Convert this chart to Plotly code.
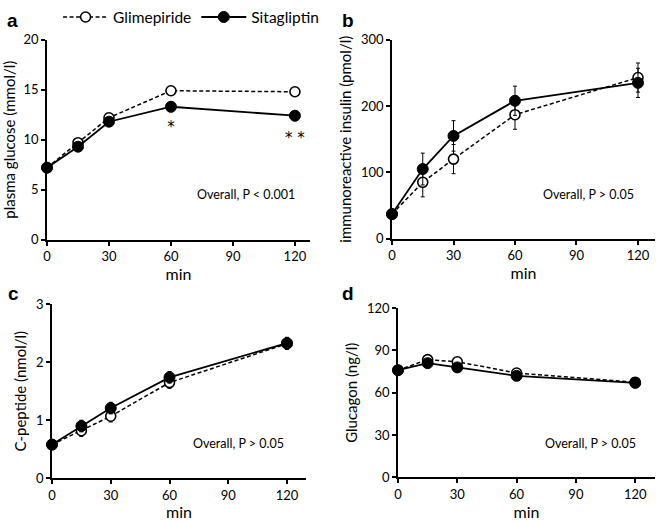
import plotly.graph_objects as go

minutes = [0, 15, 30, 60, 120]

glim_glucose = [7.2, 9.7, 12.2, 14.9, 14.8]
sita_glucose = [7.2, 9.3, 11.8, 13.3, 12.4]
glim_glucose_err = [0.3, 0.4, 0.4, 0.4, 0.4]
sita_glucose_err = [0.3, 0.4, 0.4, 0.5, 0.5]

glim_insulin = [37, 85, 120, 187, 243]
sita_insulin = [37, 105, 155, 208, 235]
glim_insulin_err = [4, 22, 22, 22, 22]
sita_insulin_err = [4, 24, 23, 22, 22]

glim_cpep = [0.58, 0.82, 1.07, 1.65, 2.32]
sita_cpep = [0.58, 0.90, 1.21, 1.74, 2.33]
glim_cpep_err = [0.03, 0.1, 0.1, 0.1, 0.1]
sita_cpep_err = [0.03, 0.1, 0.1, 0.1, 0.1]

glim_glucagon = [76, 83.5, 82, 74, 67.5]
sita_glucagon = [76, 81, 78, 72, 67]
glim_glucagon_err = [2, 2, 2, 2, 2]
sita_glucagon_err = [2, 2, 2, 2, 2]

star_x = [60, 120]
star_y = [11.1, 10.0]
star_text = ["*", "* *"]

panel_letters = ["a", "b", "c", "d"]
y_titles = ["plasma glucose (mmol/l)", "immunoreactive insulin (pmol/l)",
            "C-peptide (nmol/l)", "Glucagon (ng/l)"]
p_texts = ["Overall, P < 0.001", "Overall, P > 0.05", "Overall, P > 0.05", "Overall, P > 0.05"]

FONT = "Lato"
W, H = 660, 521

fig = go.Figure()

panels = [
    (glim_glucose, glim_glucose_err, sita_glucose, sita_glucose_err),
    (glim_insulin, glim_insulin_err, sita_insulin, sita_insulin_err),
    (glim_cpep, glim_cpep_err, sita_cpep, sita_cpep_err),
    (glim_glucagon, glim_glucagon_err, sita_glucagon, sita_glucagon_err),
]

# pixel boxes: (left, right, top, bottom)
boxes = [(47, 310, 37, 238), (392, 655, 37, 237), (52, 306, 303, 478), (398, 655, 307, 477)]
yranges = [(0, 20, 5), (0, 300, 100), (0, 3, 1), (0, 120, 30)]
xends = [127.3, 128.3, 129.7, 130]
ptext_pos = [(96.5, 4.5), (96, 66), (95, 0.6), (97.5, 24)]

for i, (g, ge, s, se) in enumerate(panels):
    n = "" if i == 0 else str(i + 1)
    xa, ya = "x" + n, "y" + n
    fig.add_trace(go.Scatter(
        x=minutes, y=g, mode="lines+markers", name="Glimepiride",
        xaxis=xa, yaxis=ya, showlegend=(i == 0), cliponaxis=False,
        line=dict(color="black", width=1.5, dash="4px,2.5px"),
        marker=dict(symbol="circle", size=10, color="white", line=dict(color="black", width=1.6)),
        error_y=dict(type="data", array=ge, color="black", thickness=1, width=2),
    ))
    fig.add_trace(go.Scatter(
        x=minutes, y=s, mode="lines+markers", name="Sitagliptin",
        xaxis=xa, yaxis=ya, showlegend=(i == 0), cliponaxis=False,
        line=dict(color="black", width=1.8),
        marker=dict(symbol="circle", size=11, color="black", line=dict(color="black", width=1)),
        error_y=dict(type="data", array=se, color="black", thickness=1, width=2),
    ))
    l, r, t, b = boxes[i]
    y0, y1, dt = yranges[i]
    axis_common = dict(showline=True, linecolor="black", linewidth=1.8, ticks="outside",
                       ticklen=4, tickwidth=1.5, tickcolor="black", showgrid=False,
                       zeroline=False, automargin=False,
                       tickfont=dict(family=FONT, size=13, color="black"))
    fig.update_layout(**{
        ("xaxis" + n): dict(domain=[l / W, r / W], anchor=ya, range=[0, xends[i]],
                            tickvals=[0, 30, 60, 90, 120],
                            title=dict(text="min", font=dict(family=FONT, size=16, color="black"), standoff=0),
                            **axis_common),
        ("yaxis" + n): dict(domain=[1 - b / H, 1 - t / H], anchor=xa, range=[y0, y1], dtick=dt,
                            title=dict(text=y_titles[i], font=dict(family=FONT, size=15, color="black"), standoff=6),
                            **axis_common),
    })
    fig.add_annotation(x=ptext_pos[i][0], y=ptext_pos[i][1], xref=xa, yref=ya, text=p_texts[i],
                       showarrow=False, font=dict(family=FONT, size=12.5, color="black"))

fig.add_trace(go.Scatter(x=star_x, y=star_y, mode="text", text=star_text, showlegend=False,
                         textfont=dict(family="DejaVu Sans", size=15, color="black"), xaxis="x", yaxis="y"))

letter_pos = [(5, 18), (340, 18), (6, 292), (340, 292)]
for (px, py), letter in zip(letter_pos, panel_letters):
    fig.add_annotation(x=px / W, y=1 - py / H, xref="paper", yref="paper", text="<b>" + letter + "</b>",
                       showarrow=False, xanchor="left", yanchor="middle",
                       font=dict(family="Liberation Sans", size=19, color="black"))

fig.update_layout(
    width=W, height=H, margin=dict(l=0, r=0, t=0, b=0),
    plot_bgcolor="white", paper_bgcolor="white",
    font=dict(family=FONT, color="black"),
    legend=dict(orientation="h", x=0.088, y=1.005, xanchor="left", yanchor="top",
                font=dict(family=FONT, size=15.5, color="black"), itemwidth=45,
                bgcolor="rgba(0,0,0,0)", tracegroupgap=0),
)

fig.write_html("out.html", config={"displayModeBar": False},
               post_script="document.body.style.margin='0';document.body.style.overflow='hidden';")
